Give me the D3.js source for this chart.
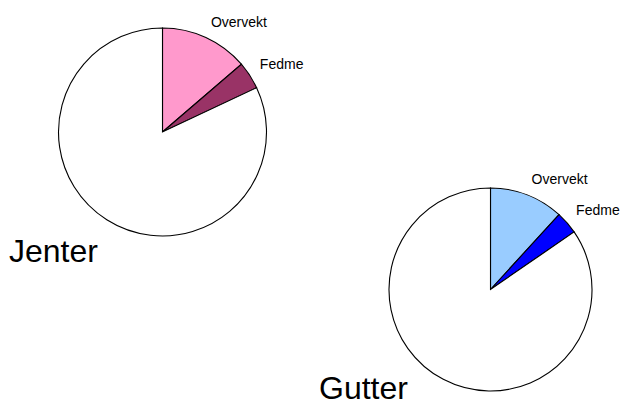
<!DOCTYPE html>
<html>
<head>
<meta charset="utf-8">
<script src="https://cdn.jsdelivr.net/npm/d3@7"></script>
<style>
  body { margin: 0; background: #fff; }
  svg { display: block; font-family: "Liberation Sans", Arial, sans-serif; }
</style>
</head>
<body>
<div id="chart"></div>
<script>
// slices in drawing order, clockwise from 12 o'clock
var categories = ['Overvekt', 'Fedme', 'Normalvekt'];
var labelled = ['Overvekt', 'Fedme'];
var jenter = [13.7, 4.3, 82.0];
var gutter = [11.8, 3.6, 84.6];

var W = 622, H = 405;

var svg = d3.select('#chart').append('svg')
    .attr('width', W)
    .attr('height', H);

function draw_pie(values, opts) {
    var data = categories.map(function(c, i) { return {cat: c, value: values[i]}; });
    var pie = d3.pie()
        .sort(null)
        .value(function(d) { return d.value; });
    var arc = d3.arc().innerRadius(0).outerRadius(opts.r);
    var label_arc = d3.arc().innerRadius(opts.r + 12).outerRadius(opts.r + 12);

    var g = svg.append('g')
        .attr('transform', 'translate(' + opts.cx + ',' + opts.cy + ')');

    var arcs = pie(data);

    g.selectAll('path.slice')
        .data(arcs)
        .enter().append('path')
        .attr('class', 'slice')
        .attr('d', arc)
        .attr('fill', function(d) { return opts.colors[d.data.cat]; })
        .attr('stroke', '#000')
        .attr('stroke-width', 1.1);

    g.selectAll('text.lbl')
        .data(arcs.filter(function(d) { return labelled.indexOf(d.data.cat) >= 0; }))
        .enter().append('text')
        .attr('class', 'lbl')
        .attr('x', function(d) { return label_arc.centroid(d)[0]; })
        .attr('y', function(d) { return label_arc.centroid(d)[1]; })
        .attr('font-size', 14)
        .attr('fill', '#000')
        .text(function(d) { return d.data.cat; });

    svg.append('text')
        .attr('x', opts.tx)
        .attr('y', opts.ty)
        .attr('font-size', 32)
        .attr('fill', '#000')
        .text(opts.title);
}

draw_pie(jenter, {
    cx: 162.5, cy: 132, r: 104,
    title: 'Jenter', tx: 9, ty: 262,
    colors: {'Overvekt': '#FF99CC', 'Fedme': '#993366', 'Normalvekt': '#FFFFFF'}
});

draw_pie(gutter, {
    cx: 490.5, cy: 289.5, r: 101.5,
    title: 'Gutter', tx: 319, ty: 399,
    colors: {'Overvekt': '#99CCFF', 'Fedme': '#0000FF', 'Normalvekt': '#FFFFFF'}
});
</script>
</body>
</html>
